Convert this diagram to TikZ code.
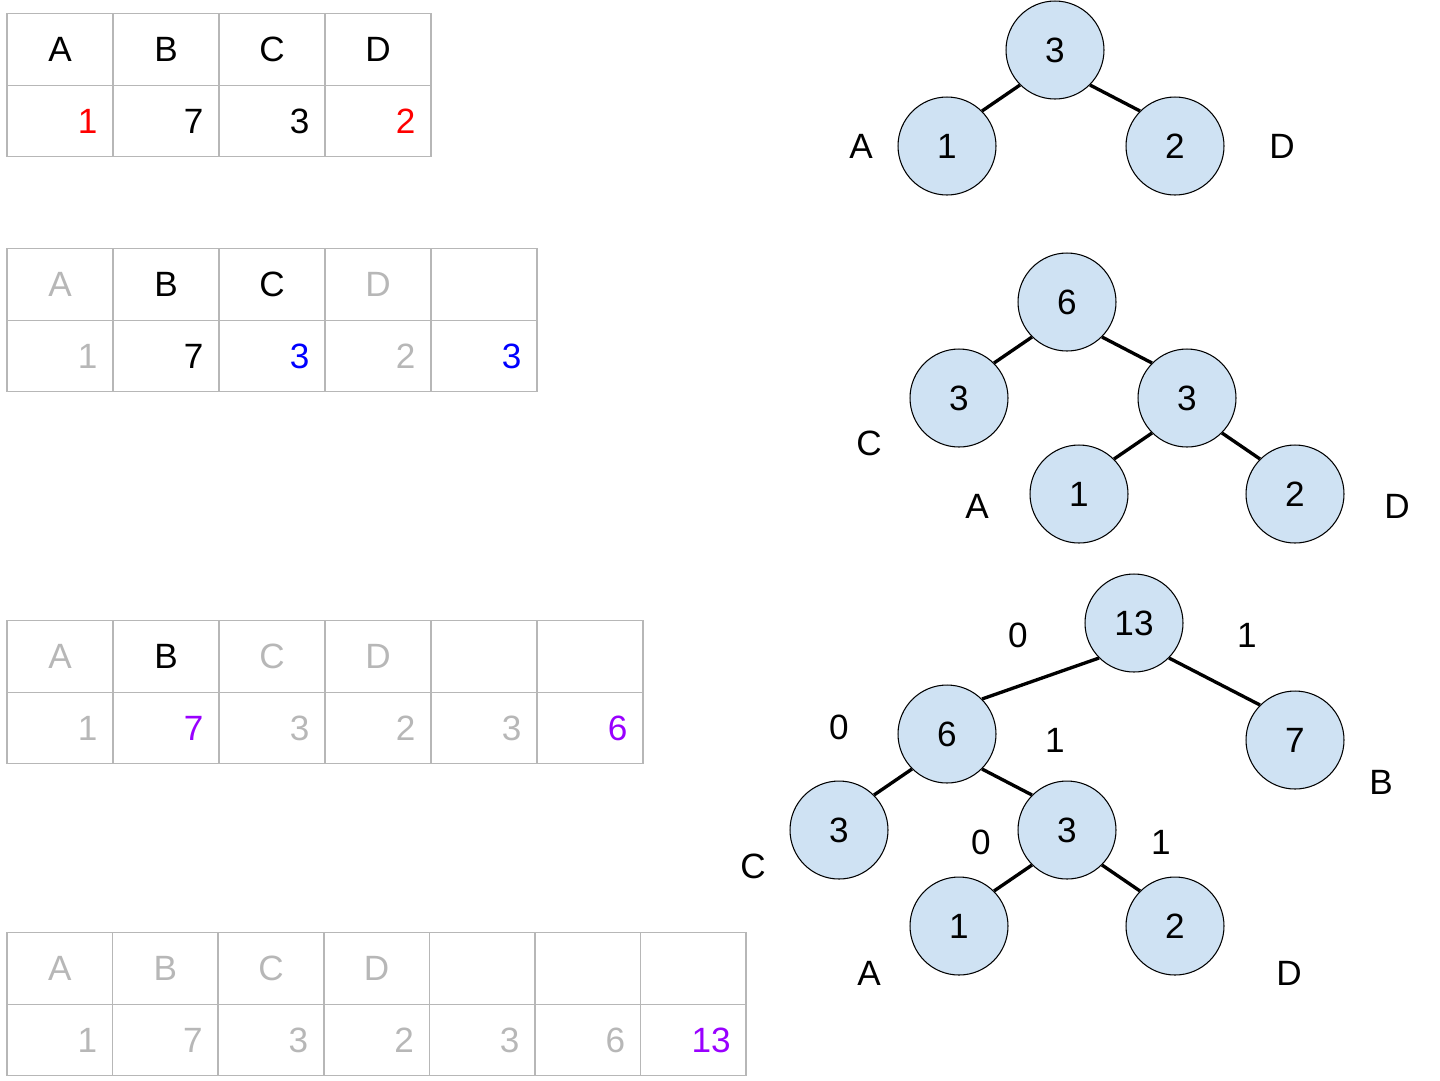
\documentclass[tikz,border=0pt]{standalone}
\usepackage{fontspec}
\setmainfont{Liberation Sans}
\usetikzlibrary{positioning}
\definecolor{gridgray}{RGB}{183,183,183}
\definecolor{fadegray}{RGB}{183,183,183}
\definecolor{hred}{RGB}{255,0,0}
\definecolor{hblue}{RGB}{0,0,255}
\definecolor{hpurple}{RGB}{153,0,255}
\definecolor{nodeblue}{RGB}{207,226,243}
\tikzset{
  cell/.style={rectangle, draw=gridgray, line width=0.8pt, minimum width=2.12cm, minimum height=1.43cm, inner sep=0pt, font=\fontsize{20}{24}\selectfont},
  val/.style={anchor=east, font=\fontsize{20}{24}\selectfont},
  huff/.style={circle, draw=black, line width=0.6pt, fill=nodeblue, minimum size=1.96cm, inner sep=0pt, font=\fontsize{20}{24}\selectfont},
  lbl/.style={font=\fontsize{20}{24}\selectfont},
  edge/.style={line width=1.9pt}
}
\begin{document}
\begin{tikzpicture}[x=0.02cm, y=-0.02cm]
\useasboundingbox (0,0) rectangle (1440,1080);

% tables
\foreach \lab/\lc/\num/\vc [count=\i] in {A/black/1/hred, B/black/7/black, C/black/3/black, D/black/2/hred} {
  \node[cell, text=\lc] (ta-h\i) at ({7+106*(\i-0.5)},49.5) {\lab};
  \node[cell] (ta-v\i) at ({7+106*(\i-0.5)},121) {};
  \node[val, text=\vc] at ([xshift=-0.2cm]ta-v\i.east) {\num};
}
\foreach \lab/\lc/\num/\vc [count=\i] in {A/fadegray/1/fadegray, B/black/7/black, C/black/3/hblue, D/fadegray/2/fadegray, {}/black/3/hblue} {
  \node[cell, text=\lc] (tb-h\i) at ({7+106*(\i-0.5)},284.5) {\lab};
  \node[cell] (tb-v\i) at ({7+106*(\i-0.5)},356) {};
  \node[val, text=\vc] at ([xshift=-0.2cm]tb-v\i.east) {\num};
}
\foreach \lab/\lc/\num/\vc [count=\i] in {A/fadegray/1/fadegray, B/black/7/hpurple, C/fadegray/3/fadegray, D/fadegray/2/fadegray, {}/black/3/fadegray, {}/black/6/hpurple} {
  \node[cell, text=\lc] (tc-h\i) at ({7+106*(\i-0.5)},656.5) {\lab};
  \node[cell] (tc-v\i) at ({7+106*(\i-0.5)},728) {};
  \node[val, text=\vc] at ([xshift=-0.2cm]tc-v\i.east) {\num};
}
\foreach \lab/\lc/\num/\vc [count=\i] in {A/fadegray/1/fadegray, B/fadegray/7/fadegray, C/fadegray/3/fadegray, D/fadegray/2/fadegray, {}/black/3/fadegray, {}/black/6/fadegray, {}/black/13/hpurple} {
  \node[cell, minimum width=2.112cm, text=\lc] (td-h\i) at ({7+105.6*(\i-0.5)},968.5) {\lab};
  \node[cell, minimum width=2.112cm] (td-v\i) at ({7+105.6*(\i-0.5)},1040) {};
  \node[val, text=\vc] at ([xshift=-0.2cm]td-v\i.east) {\num};
}

% tree 1
\node[huff] (a-r) at (1055,50) {3};
\node[huff] (a-l) at (947,146) {1};
\node[huff] (a-rr) at (1175,146) {2};
\node[lbl] (a-A) at (861,146) {A};
\node[lbl] (a-D) at (1282,146) {D};
\draw[edge] (a-r.225) -- (a-l.45);
\draw[edge] (a-r.315) -- (a-rr.135);

% tree 2
\node[huff] (b-r) at (1067,302) {6};
\node[huff] (b-l) at (959,398) {3};
\node[huff] (b-m) at (1187,398) {3};
\node[huff] (b-ml) at (1079,494) {1};
\node[huff] (b-mr) at (1295,494) {2};
\node[lbl] (b-C) at (869,443) {C};
\node[lbl] (b-A) at (977,506) {A};
\node[lbl] (b-D) at (1397,506) {D};
\draw[edge] (b-r.225) -- (b-l.45);
\draw[edge] (b-r.315) -- (b-m.135);
\draw[edge] (b-m.225) -- (b-ml.45);
\draw[edge] (b-m.315) -- (b-mr.135);

% tree 3
\node[huff] (c-r) at (1134,623) {13};
\node[huff] (c-l) at (947,734) {6};
\node[huff] (c-b) at (1295,740) {7};
\node[huff] (c-ll) at (839,830) {3};
\node[huff] (c-lm) at (1067,830) {3};
\node[huff] (c-lml) at (959,926) {1};
\node[huff] (c-lmr) at (1175,926) {2};
\node[lbl] (c-C) at (753,866) {C};
\node[lbl] (c-B) at (1381,782) {B};
\node[lbl] (c-A) at (869,973) {A};
\node[lbl] (c-D) at (1289,973) {D};
\node[lbl] (c-e1) at (1018,635) {0};
\node[lbl] (c-e2) at (1247,635) {1};
\node[lbl] (c-e3) at (839,727) {0};
\node[lbl] (c-e4) at (1055,740) {1};
\node[lbl] (c-e5) at (981,842) {0};
\node[lbl] (c-e6) at (1161,842) {1};
\draw[edge] (c-r.225) -- (c-l.45);
\draw[edge] (c-r.315) -- (c-b.135);
\draw[edge] (c-l.225) -- (c-ll.45);
\draw[edge] (c-l.315) -- (c-lm.135);
\draw[edge] (c-lm.225) -- (c-lml.45);
\draw[edge] (c-lm.315) -- (c-lmr.135);
\end{tikzpicture}
\end{document}
